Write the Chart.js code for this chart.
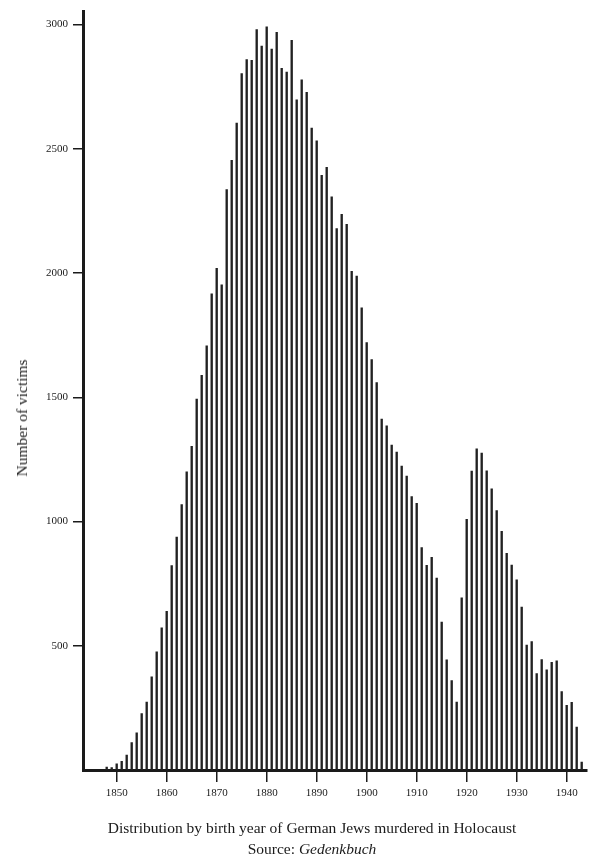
<!DOCTYPE html>
<html>
<head>
<meta charset="utf-8">
<script src="https://cdn.jsdelivr.net/npm/chart.js@4"></script>
<style>
  html, body { margin: 0; padding: 0; background: #fff; }
  #wrap { position: relative; width: 600px; height: 861px; }
  #yTitle {
    position: absolute; left: 22px; top: 418px;
    transform: translate(-50%, -50%) rotate(-90deg);
    font: 15.5px "Liberation Serif", serif; color: #1a1a1a; white-space: nowrap;
  }
  #caption {
    position: absolute; left: 0; width: 624px; top: 817px;
    text-align: center; font: 15.5px "Liberation Serif", serif; color: #1a1a1a; line-height: 21px;
  }
</style>
</head>
<body>
<div id="wrap">
  <canvas id="birthChart" width="600" height="861"></canvas>
  <div id="yTitle">Number of victims</div>
  <div id="caption">Distribution by birth year of German Jews murdered in Holocaust<br>Source: <i>Gedenkbuch</i></div>
</div>
<script>
// birth years 1848..1943
const years = [
  1848, 1849, 1850, 1851, 1852, 1853, 1854, 1855, 1856, 1857, 1858, 1859,
  1860, 1861, 1862, 1863, 1864, 1865, 1866, 1867, 1868, 1869,
  1870, 1871, 1872, 1873, 1874, 1875, 1876, 1877, 1878, 1879,
  1880, 1881, 1882, 1883, 1884, 1885, 1886, 1887, 1888, 1889,
  1890, 1891, 1892, 1893, 1894, 1895, 1896, 1897, 1898, 1899,
  1900, 1901, 1902, 1903, 1904, 1905, 1906, 1907, 1908, 1909,
  1910, 1911, 1912, 1913, 1914, 1915, 1916, 1917, 1918, 1919,
  1920, 1921, 1922, 1923, 1924, 1925, 1926, 1927, 1928, 1929,
  1930, 1931, 1932, 1933, 1934, 1935, 1936, 1937, 1938, 1939,
  1940, 1941, 1942, 1943
];

// number of victims per birth year
const victims = [
  12, 10, 25, 35, 60, 110, 150, 227, 273, 375, 476, 572,
  639, 823, 937, 1068, 1200, 1303, 1493, 1588, 1707, 1916,
  2019, 1952, 2336, 2453, 2603, 2803, 2859, 2856, 2980, 2913,
  2991, 2901, 2969, 2824, 2809, 2936, 2697, 2777, 2727, 2583,
  2532, 2393, 2425, 2307, 2179, 2236, 2196, 2007, 1988, 1860,
  1720, 1652, 1559, 1412, 1385, 1308, 1279, 1223, 1183, 1100,
  1073, 895, 824, 856, 772, 595, 443, 360, 273, 693,
  1009, 1203, 1292, 1275, 1204, 1132, 1044, 960, 872, 825,
  765, 656, 503, 517, 388, 444, 403, 433, 439, 316,
  260, 272, 173, 32
];

const xTicks = [1850, 1860, 1870, 1880, 1890, 1900, 1910, 1920, 1930, 1940];
const yTicks = [500, 1000, 1500, 2000, 2500, 3000];

const ink = '#1a1a1a';
const serif = '"Liberation Serif", serif';

const ctx = document.getElementById('birthChart').getContext('2d');
new Chart(ctx, {
  type: 'bar',
  data: {
    datasets: [{
      data: years.map((y, i) => ({ x: y, y: victims[i] })),
      backgroundColor: '#222',
      barThickness: 1.7
    }]
  },
  options: {
    responsive: false,
    animation: false,
    layout: { padding: { top: 5, left: 0, right: 13, bottom: 0 } },
    plugins: { legend: { display: false }, tooltip: { enabled: false } },
    scales: {
      x: {
        type: 'linear',
        offset: false,
        min: 1843.26,
        max: 1944.06,
        afterFit: s => { s.height = 91; },
        afterBuildTicks: s => { s.ticks = xTicks.map(v => ({ value: v })); },
        border: { color: ink, width: 3 },
        grid: { offset: false, drawOnChartArea: false, color: ink, lineWidth: 1.5, tickLength: 12 },
        ticks: { color: ink, font: { family: serif, size: 11 }, padding: 5, maxRotation: 0, callback: v => String(v) }
      },
      y: {
        min: 0,
        max: 3052,
        afterFit: s => { s.width = 83; },
        afterBuildTicks: s => { s.ticks = yTicks.map(v => ({ value: v })); },
        border: { color: ink, width: 3 },
        grid: { drawOnChartArea: false, color: ink, lineWidth: 1.5, tickLength: 10 },
        ticks: { color: ink, font: { family: serif, size: 11 }, padding: 5, callback: v => String(v) }
      }
    }
  }
});
</script>
</body>
</html>
